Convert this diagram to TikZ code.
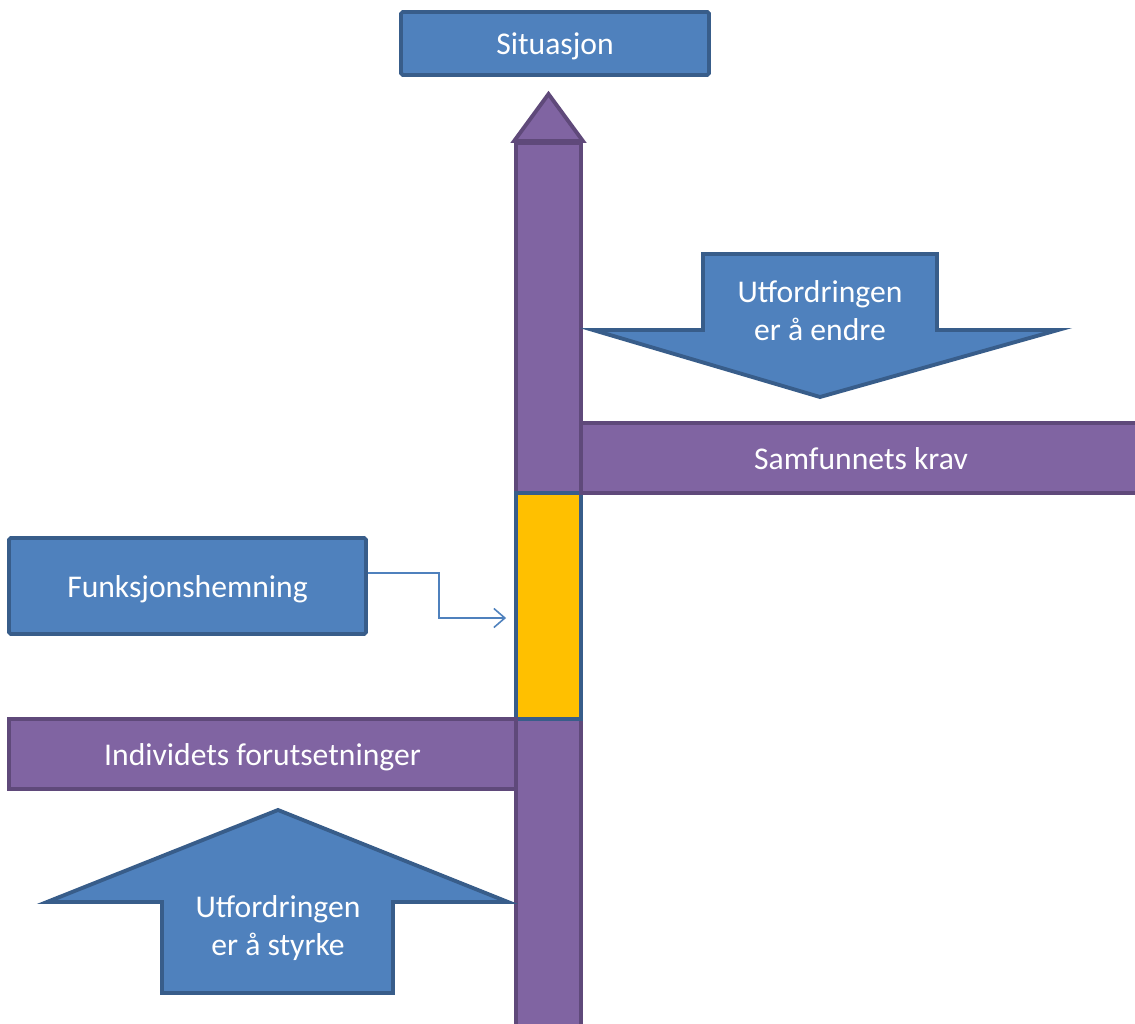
\documentclass[tikz,border=0pt]{standalone}
\usepackage{fontspec}
\setmainfont{Carlito}
\usetikzlibrary{arrows.meta,positioning,calc}
\definecolor{boxblue}{HTML}{4F81BD}
\definecolor{blueline}{HTML}{385D8A}
\definecolor{boxpurple}{HTML}{8064A2}
\definecolor{purpleline}{HTML}{5F497A}
\definecolor{hemyellow}{HTML}{FFC000}
\begin{document}
\begin{tikzpicture}[
    bluebox/.style={rectangle, draw=blueline, fill=boxblue, line width=2.2pt, rounded corners=1pt, text=white, font=\fontsize{18}{21.5}\selectfont, align=center, inner sep=0pt, text height=15pt, text depth=2pt},
    purplebar/.style={rectangle, draw=purpleline, fill=boxpurple, line width=2.2pt, text=white, font=\fontsize{18}{21.5}\selectfont, align=center, inner sep=0pt, text height=15pt, text depth=2pt},
    yellowbox/.style={rectangle, draw=blueline, fill=hemyellow, line width=2.2pt, inner sep=0pt},
    bigarrow/.style={draw=blueline, fill=boxblue, line width=2.2pt},
    arrowtext/.style={text=white, font=\fontsize{18}{21.5}\selectfont, align=center},
    conn/.style={-{Straight Barb[length=2.2mm,width=3.8mm]}, draw=boxblue, line width=0.9pt}
  ]
    \useasboundingbox (0,0) rectangle (22.7,20.46);
    % the pole with its tip
    \node[purplebar, minimum width=1.30cm, minimum height=17.9cm] (pole) at (10.97,8.65) {};
    \draw[purplebar] (pole.north west) -- ($(pole.north)+(0,0.94)$) -- (pole.north east) -- cycle;
    \node[yellowbox, minimum width=1.30cm, minimum height=4.52cm] (hem) at (10.97,8.34) {};
    \node[bluebox, minimum width=6.16cm, minimum height=1.26cm] (sit) at (11.10,19.59) {Situasjon};
    % the two signs
    \node[purplebar, minimum width=11.2cm, minimum height=1.40cm] (krav) at (17.22,11.30) {Samfunnets krav};
    \node[purplebar, minimum width=10.14cm, minimum height=1.40cm] (indiv) at (5.25,5.38) {Individets forutsetninger};
    \node[bluebox, minimum width=7.14cm, minimum height=1.92cm] (fun) at (3.75,8.74) {Funksjonshemning};
    \draw[conn] ([yshift=0.26cm]fun.east) -- ++(1.42,0) |- ([xshift=-0.16cm,yshift=-0.24cm]hem.west);
    % block arrows
    \draw[bigarrow] (14.06,15.38) -- (18.74,15.38) -- (18.74,13.86) -- (21.16,13.86) -- (16.40,12.52) -- (11.86,13.86) -- (14.06,13.86) -- cycle;
    \node[arrowtext] (endre) at (16.40,14.25) {Utfordringen\\er å endre};
    \draw[bigarrow] (3.24,0.60) -- (7.86,0.60) -- (7.86,2.42) -- (10.16,2.42) -- (5.56,4.26) -- (0.94,2.42) -- (3.24,2.42) -- cycle;
    \node[arrowtext] (styrke) at (5.56,1.90) {Utfordringen\\er å styrke};
  \end{tikzpicture}
\end{document}
